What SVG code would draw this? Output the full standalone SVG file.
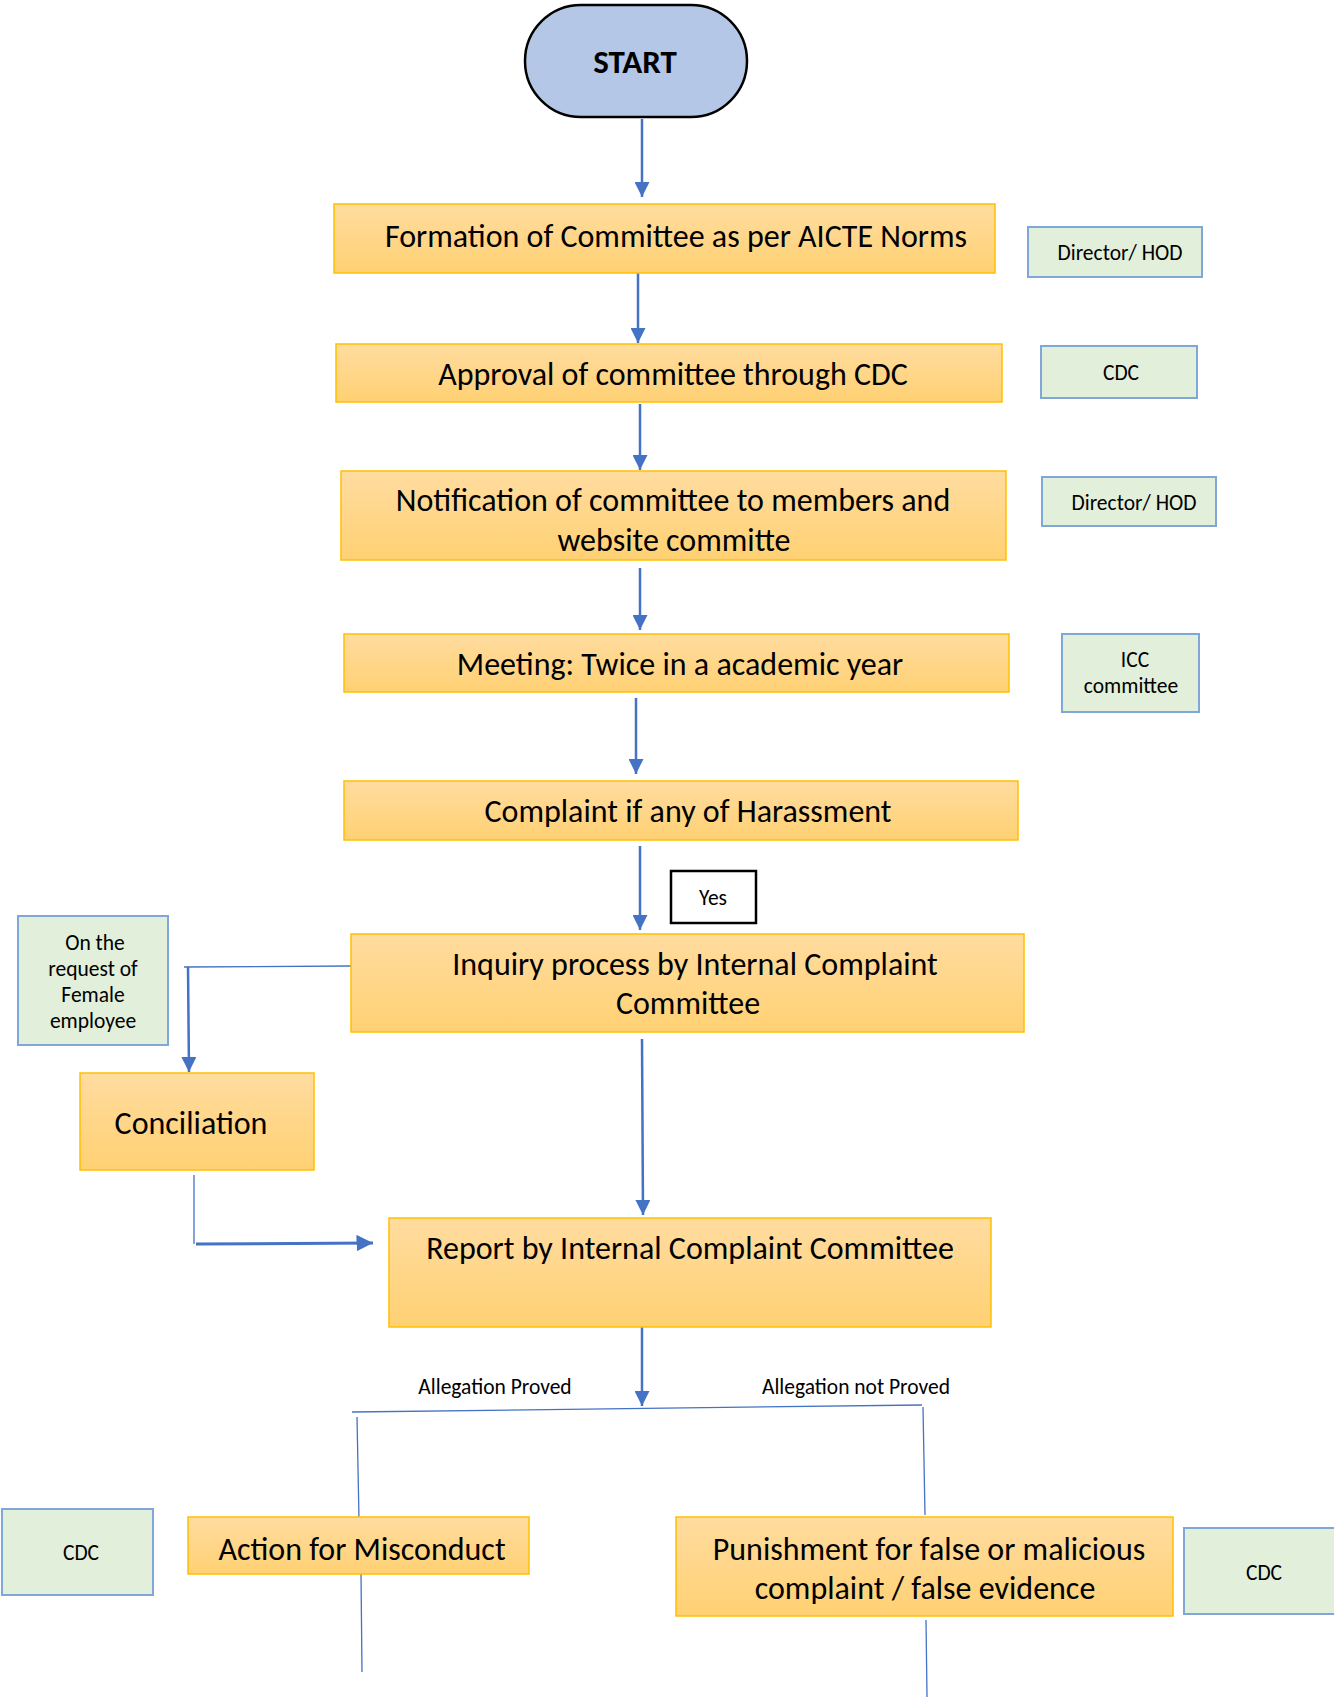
<svg xmlns="http://www.w3.org/2000/svg" width="1334" height="1697" viewBox="0 0 1334 1697">
<defs>
<linearGradient id="og" x1="0" y1="0" x2="0" y2="1">
<stop offset="0" stop-color="#FFDCA0"/>
<stop offset="1" stop-color="#FFD173"/>
</linearGradient>
<marker id="ah" viewBox="0 0 10 10" refX="10" refY="5" markerWidth="6.4" markerHeight="6" markerUnits="strokeWidth" orient="auto">
<path d="M0,0 L10,5 L0,10 z" fill="#4472C4"/>
</marker>
<marker id="ah2" viewBox="0 0 10 10" refX="10" refY="5" markerWidth="5.5" markerHeight="5.5" markerUnits="strokeWidth" orient="auto">
<path d="M0,0 L10,5 L0,10 z" fill="#4472C4"/>
</marker>
</defs>
<style>
.box{fill:url(#og);stroke:#FFC000;stroke-width:1.5}
.gbox{fill:#E2EFDA;stroke:#7FA8D8;stroke-width:2}
.t{font-family:Carlito,Calibri,Lato,"Liberation Sans",sans-serif;fill:#000;text-anchor:middle}
.big{font-size:32px}
.sm{font-size:21.5px}
.arr{stroke:#4472C4;stroke-width:2.5;fill:none;marker-end:url(#ah)}
.ln{stroke:#4472C4;stroke-width:1.3;fill:none}
</style>
<rect width="1334" height="1697" fill="#fff"/>

<g id="connectors">
<line class="arr" x1="642" y1="119" x2="642" y2="197"/>
<line class="arr" x1="638" y1="273" x2="638" y2="343"/>
<line class="arr" x1="640" y1="404" x2="640" y2="470"/>
<line class="arr" x1="640" y1="568" x2="640" y2="630"/>
<line class="arr" x1="636" y1="698" x2="636" y2="774"/>
<line class="arr" x1="640" y1="846" x2="640" y2="930"/>
<polyline class="ln" points="351,966 184,967"/>
<line class="arr" x1="188" y1="967" x2="189" y2="1072"/>
<line class="arr" x1="642" y1="1039" x2="643" y2="1215"/>
<polyline class="ln" points="194,1175 194,1244"/>
<line stroke="#4472C4" stroke-width="3" x1="196" y1="1244" x2="373" y2="1243" marker-end="url(#ah2)"/>
<line class="arr" x1="642" y1="1327" x2="642" y2="1406"/>
<line class="ln" x1="352" y1="1412" x2="922" y2="1405"/>
<line class="ln" x1="357" y1="1417" x2="359" y2="1520"/>
<line class="ln" x1="361" y1="1574" x2="362" y2="1672"/>
<line class="ln" x1="923" y1="1407" x2="925" y2="1515"/>
<line class="ln" x1="926" y1="1620" x2="927" y2="1697"/>
</g>

<g id="start">
<rect x="525" y="5" width="222" height="112" rx="56" ry="56" fill="#B4C7E7" stroke="#000" stroke-width="2.5"/>
<text class="t" x="635" y="73" font-size="33" font-weight="bold">START</text>
</g>

<g id="formation">
<rect class="box" x="334" y="204" width="661" height="69"/>
<text class="t big" x="676" y="247">Formation of Committee as per AICTE Norms</text>
</g>
<g id="role1">
<rect class="gbox" x="1028" y="227" width="174" height="50"/>
<text class="t sm" x="1120" y="260">Director/ HOD</text>
</g>

<g id="approval">
<rect class="box" x="336" y="344" width="666" height="58"/>
<text class="t big" x="673" y="385">Approval of committee through CDC</text>
</g>
<g id="role2">
<rect class="gbox" x="1041" y="346" width="156" height="52"/>
<text class="t sm" x="1121" y="380">CDC</text>
</g>

<g id="notification">
<rect class="box" x="341" y="471" width="665" height="89"/>
<text class="t big" x="673" y="511">Notification of committee to members and</text>
<text class="t big" x="674" y="551">website committe</text>
</g>
<g id="role3">
<rect class="gbox" x="1042" y="477" width="174" height="49"/>
<text class="t sm" x="1134" y="510">Director/ HOD</text>
</g>

<g id="meeting">
<rect class="box" x="344" y="634" width="665" height="58"/>
<text class="t big" x="680" y="675">Meeting: Twice in a academic year</text>
</g>
<g id="role4">
<rect class="gbox" x="1062" y="634" width="137" height="78"/>
<text class="t sm" x="1135" y="667">ICC</text>
<text class="t sm" x="1131" y="693">committee</text>
</g>

<g id="complaint">
<rect class="box" x="344" y="781" width="674" height="59"/>
<text class="t big" x="688" y="822">Complaint if any of Harassment</text>
</g>

<g id="yes">
<rect x="671" y="871" width="85" height="52" fill="#fff" stroke="#000" stroke-width="2.5"/>
<text class="t sm" x="713" y="905">Yes</text>
</g>

<g id="inquiry">
<rect class="box" x="351" y="934" width="673" height="98"/>
<text class="t big" x="695" y="975">Inquiry process by Internal Complaint</text>
<text class="t big" x="688" y="1014">Committee</text>
</g>

<g id="request">
<rect class="gbox" x="18" y="916" width="150" height="129"/>
<text class="t sm" x="95" y="950">On the</text>
<text class="t sm" x="93" y="976">request of</text>
<text class="t sm" x="93" y="1002">Female</text>
<text class="t sm" x="93" y="1028">employee</text>
</g>

<g id="conciliation">
<rect class="box" x="80" y="1073" width="234" height="97"/>
<text class="t big" x="191" y="1134">Conciliation</text>
</g>

<g id="report">
<rect class="box" x="389" y="1218" width="602" height="109"/>
<text class="t big" x="690" y="1259">Report by Internal Complaint Committee</text>
</g>

<g id="labels">
<text class="t sm" x="495" y="1394">Allegation Proved</text>
<text class="t sm" x="856" y="1394">Allegation not Proved</text>
</g>

<g id="cdc-left">
<rect class="gbox" x="2" y="1509" width="151" height="86"/>
<text class="t sm" x="81" y="1560">CDC</text>
</g>

<g id="action">
<rect class="box" x="188" y="1517" width="341" height="57"/>
<text class="t big" x="362" y="1560">Action for Misconduct</text>
</g>

<g id="punishment">
<rect class="box" x="676" y="1517" width="497" height="99"/>
<text class="t big" x="929" y="1560">Punishment for false or malicious</text>
<text class="t big" x="925" y="1599">complaint / false evidence</text>
</g>

<g id="cdc-right">
<rect class="gbox" x="1184" y="1528" width="152" height="86"/>
<text class="t sm" x="1264" y="1580">CDC</text>
</g>
</svg>
